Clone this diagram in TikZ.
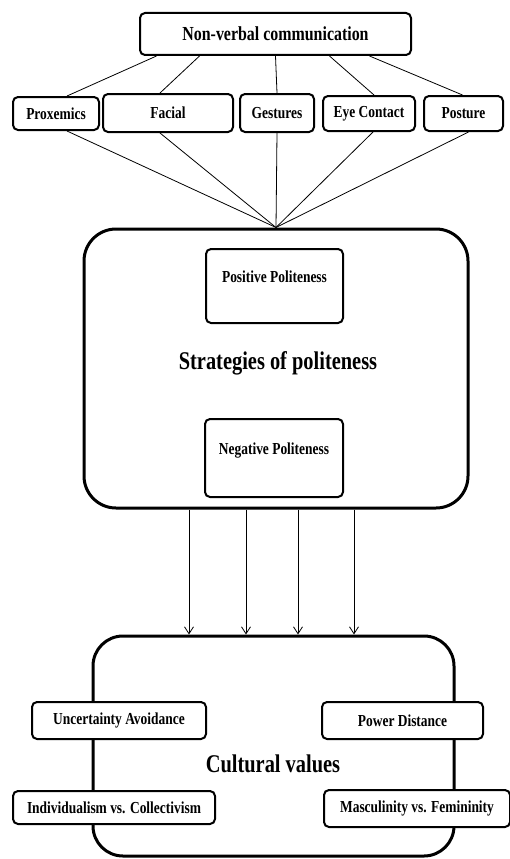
\documentclass[tikz,border=0pt]{standalone}
\usepackage{fontspec}
\setmainfont[FakeStretch=0.8]{Liberation Serif}
\usetikzlibrary{arrows.meta}

\begin{document}
\begin{tikzpicture}[x=1pt, y=-1pt,
      box/.style = {draw, line width=2pt, rounded corners=5pt, fill=white,
        inner sep=0pt, align=center, font=\bfseries\fontsize{16.8}{19}\selectfont},
      bigbox/.style = {draw, line width=3pt, rounded corners=32pt, inner sep=0pt},
      bigtext/.style = {font=\bfseries\fontsize{25.5}{30}\selectfont},
      link/.style = {line width=0.8pt},
      push/.style = {line width=0.8pt, -{Straight Barb[length=7pt,width=9pt]}}]
  \useasboundingbox (0,0) rectangle (510,859);

  % top level
  \node[box, minimum width=271pt, minimum height=42pt,
    font=\bfseries\fontsize{19.9}{23}\selectfont] (nvc) at (275.5,34) {Non-verbal communication};
  \node[box, minimum width=86pt, minimum height=33pt] (prox) at (56,113.5) {Proxemics};
  \node[box, minimum width=130pt, minimum height=38pt] (facial) at (168,113) {Facial};
  \node[box, minimum width=74pt, minimum height=38pt] (gest) at (277,113) {Gestures};
  \node[box, minimum width=92pt, minimum height=35pt] (eye) at (369,113.5) {Eye Contact};
  \node[box, minimum width=79pt, minimum height=35pt] (post) at (463.5,113.5) {Posture};

  % strategies
  \node[bigbox, minimum width=384pt, minimum height=279pt] (sop) at (276,368.5) {};
  \node[bigtext] (soplabel) at (278,363) {Strategies of politeness};
  \node[box, minimum width=137pt, text height=33pt, text depth=41pt] (pos) at (274.5,286) {Positive Politeness};
  \node[box, minimum width=138pt, text height=35pt, text depth=43pt] (neg) at (274,458) {Negative Politeness};

  % cultural values
  \node[bigbox, rounded corners=30pt, minimum width=361pt, minimum height=220pt] (cv) at (273.5,746) {};
  \node[bigtext] (cvlabel) at (273,764) {Cultural values};
  \node[box, minimum width=174pt, minimum height=37pt] (ua) at (119,720.5) {Uncertainty Avoidance};
  \node[box, minimum width=161pt, minimum height=37pt] (pd) at (402.5,720.5) {Power Distance};
  \node[box, minimum width=202pt, minimum height=33pt] (ic) at (114,807.5) {Individualism vs. Collectivism};
  \node[box, minimum width=186pt, minimum height=37pt] (mf) at (417,808.5) {Masculinity vs. Femininity};

  % links
  \draw[link] ([xshift=-119pt]nvc.south) -- ([xshift=11pt]prox.north);
  \draw[link] ([xshift=-76pt]nvc.south) -- ([xshift=-8pt]facial.north);
  \draw[link] (nvc.south) -- (gest.north);
  \draw[link] ([xshift=54pt]nvc.south) -- ([xshift=5pt]eye.north);
  \draw[link] ([xshift=94pt]nvc.south) -- ([xshift=-1pt]post.north);

  \draw[link] ([xshift=11pt]prox.south) -- (sop.north);
  \draw[link] ([xshift=-8pt]facial.south) -- (sop.north);
  \draw[link] (gest.south) -- (sop.north);
  \draw[link] ([xshift=4pt]eye.south) -- (sop.north);
  \draw[link] ([xshift=5pt]post.south) -- (sop.north);

  \foreach \dx in {-87,-30,22,78}
    \draw[push] ([xshift=\dx pt]sop.south) -- ([xshift=\dx pt]sop.south |- cv.north);
\end{tikzpicture}
\end{document}
